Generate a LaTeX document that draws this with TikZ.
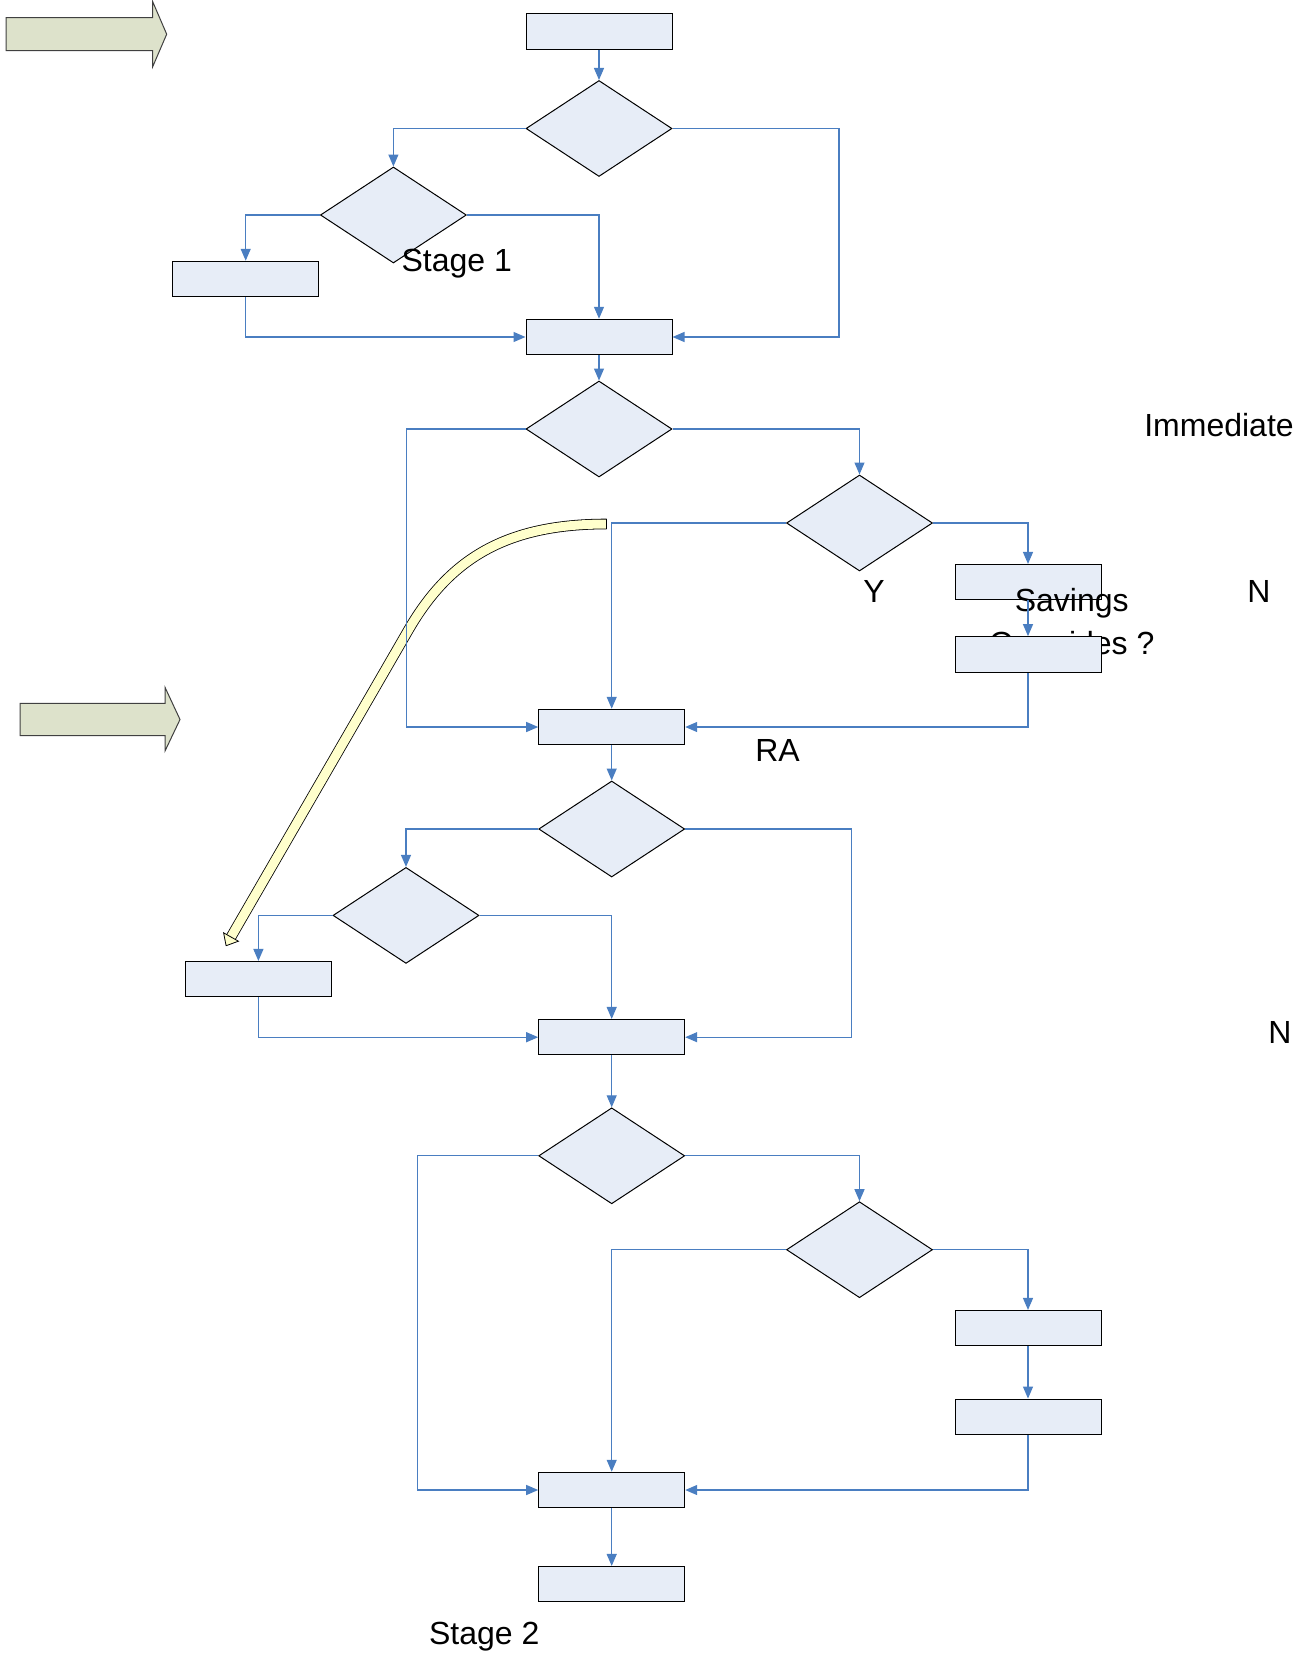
\documentclass[tikz,border=0pt]{standalone}
\usepackage{fontspec}
\setmainfont{Liberation Sans}
\usetikzlibrary{arrows.meta, shapes.geometric, backgrounds}
\definecolor{boxfill}{RGB}{231,237,247}
\definecolor{linkblue}{RGB}{74,126,193}
\definecolor{stagefill}{RGB}{221,226,203}
\definecolor{pathyellow}{RGB}{255,255,204}
\tikzset{>={Triangle[length=12pt,width=10pt]}}
\tikzset{
  box/.style={draw=black, fill=boxfill, rectangle, line width=1pt, minimum width=146pt, minimum height=35.5pt, inner sep=0pt},
  decision/.style={draw=black, fill=boxfill, diamond, line width=1pt, minimum width=146pt, minimum height=96pt, inner sep=0pt},
  link/.style={->, draw=linkblue, line width=1.2pt},
  stagearrow/.style={draw=black!75, fill=stagefill, line width=1pt},
  note/.style={anchor=base, inner sep=0pt, font=\fontsize{32}{43}\selectfont}
}
\pgfdeclarelayer{front}
\pgfsetlayers{main,front}

\begin{document}
\begin{tikzpicture}[x=1pt,y=-1pt]
            \useasboundingbox (0,0) rectangle (1314,1654);

            \draw[stagearrow] (6,17.7) -- (152.7,17.7) -- (152.7,1.7) -- (166.7,34.2) -- (152.7,66.7) -- (152.7,50.7) -- (6,50.7) -- cycle;
            \draw[stagearrow] (20,703.3) -- (165,703.3) -- (165,687.3) -- (180,719.5) -- (165,751) -- (165,735.7) -- (20,735.7) -- cycle;

            \draw[draw=black, double=pathyellow, double distance=9pt, line width=0.8pt] (606.7,524) .. controls (506.7,524) and (449,558) .. (406.7,633) -- (231,937);
            \draw[black, line width=0.8pt] (606.7,518.7) -- (606.7,529.3);
            \draw[fill=pathyellow, line width=0.8pt] (223.6,932.8) -- (226.1,945.7) -- (238.4,941.2) -- cycle;

            \node[box] (B1) at (599,31.5) {};
            \node[decision] (D1) at (599,128.5) {};
            \node[decision] (D2) at (393.4,215) {};
            \node[box] (B2) at (245.7,279) {};
            \node[box] (B3) at (599,337) {};
            \node[decision] (D3) at (599,429) {};
            \node[decision] (D4) at (859.5,523) {};
            \node[box] (B4) at (1028,582.2) {};
            \begin{pgfonlayer}{front}
            \node[box] (B5) at (1028,654.4) {};
            \end{pgfonlayer}
            \node[box] (B6) at (611.7,727) {};
            \node[decision] (D5) at (611.7,829) {};
            \node[decision] (D6) at (406,915.4) {};
            \node[box] (B7) at (258.4,979.2) {};
            \node[box] (B8) at (611.7,1037.2) {};
            \node[decision] (D7) at (611.7,1155.8) {};
            \node[decision] (D8) at (859.5,1249.7) {};
            \node[box] (B9) at (1028,1328.2) {};
            \node[box] (B10) at (1028,1416.8) {};
            \node[box] (B11) at (611.7,1490) {};
            \node[box] (B12) at (611.7,1584.2) {};

            \node[note, align=center] (SO) at (1071.7,654.7) {Savings\\Overrides ?};

            \draw[link] (B1) -- (D1);
            \draw[link] (D1.west) -| (D2.north);
            \draw[link] (D1.east) -- ++(166.4,0) |- (B3.east);
            \draw[link] (D2.west) -| (B2.north);
            \draw[link] (D2.east) -| (B3.north);
            \draw[link] (B2.south) |- (B3.west);
            \draw[link] (B3) -- (D3);
            \draw[link] (D3.west) -- ++(-119,0) |- (B6.west);
            \draw[link] (D3.east) -| (D4.north);
            \draw[link] (D4.west) -| (B6.north);
            \draw[link] (D4.east) -| (B4.north);
            \draw[link] (B4) -- (B5);
            \draw[link] (B5.south) |- (B6.east);
            \draw[link] (B6) -- (D5);
            \draw[link] (D5.west) -| (D6.north);
            \draw[link] (D5.east) -- ++(166.3,0) |- (B8.east);
            \draw[link] (D6.west) -| (B7.north);
            \draw[link] (D6.east) -| (B8.north);
            \draw[link] (B7.south) |- (B8.west);
            \draw[link] (B8) -- (D7);
            \draw[link] (D7.west) -- ++(-121,0) |- (B11.west);
            \draw[link] (D7.east) -| (D8.north);
            \draw[link] (D8.west) -| (B11.north);
            \draw[link] (D8.east) -| (B9.north);
            \draw[link] (B9) -- (B10);
            \draw[link] (B10.south) |- (B11.east);
            \draw[link] (B11) -- (B12);

            \node[note] (S1) at (456.7,271.7) {Stage 1};
            \node[note] (IM) at (1219,436) {Immediate};
            \node[note] (Y1) at (874,602.7) {Y};
            \node[note] (N1) at (1259,602.3) {N};
            \node[note] (RA) at (777.5,761.7) {RA};
            \node[note] (N2) at (1280,1043.3) {N};
            \node[note] (S2) at (484.3,1644) {Stage 2};
\end{tikzpicture}
\end{document}
